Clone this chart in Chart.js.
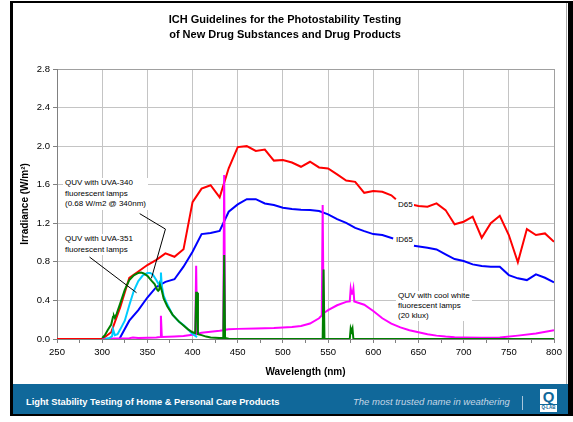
<!DOCTYPE html>
<html>
<head>
<meta charset="utf-8">
<script src="https://cdn.jsdelivr.net/npm/chart.js@4.4.1/dist/chart.umd.min.js"></script>
<style>
  html, body { margin: 0; padding: 0; background: #fff; }
  #wrap { position: relative; width: 573px; height: 422px; overflow: hidden; font-family: "Liberation Sans", Arial, sans-serif; }
  #chart { position: absolute; left: 0; top: 0; }
  .frame { position: absolute; left: 10px; top: 1px; width: 563px; height: 415px; box-sizing: border-box;
           border-style: solid; border-color: #000; border-width: 2px 5px 2px 3px; pointer-events: none; }
  .shade { position: absolute; left: 566px; top: 3px; width: 1px; height: 381px; background: #a8a8a8; }
  .title { position: absolute; left: 0; width: 570px; text-align: center; font-weight: bold; font-size: 11px; line-height: 14px; color: #000; }
  .note { position: absolute; font-size: 8px; line-height: 10.5px; background: #fff; color: #000; white-space: nowrap; padding: 0 2px; }
  .banner { position: absolute; left: 13px; top: 384px; width: 555px; height: 30px; background: #10689a; }
  .banner-left { position: absolute; left: 26px; top: 396px; font-size: 9.3px; line-height: 12px; font-weight: bold; color: #fff; white-space: nowrap; }
  .banner-right { position: absolute; left: 353px; top: 396px; font-size: 9.5px; line-height: 12px; font-style: italic; color: #c4d6e6; white-space: nowrap; }
  .sep { position: absolute; left: 522px; top: 396px; width: 1px; height: 14px; background: #a9c6dc; }
  .logo { position: absolute; left: 540px; top: 389px; width: 17px; height: 23px; background: #fff; text-align: center; color: #10689a; font-weight: bold; }
  .logo .q { font-size: 15px; line-height: 15px; display: block; }
  .logo .lab { font-size: 4.5px; line-height: 6px; display: block; border-top: 1.5px solid #10689a; }
</style>
</head>
<body>
<div id="wrap">
  <canvas id="chart" width="573" height="422"></canvas>
  <div class="title" style="top:12px">ICH Guidelines for the Photostability Testing</div>
  <div class="title" style="top:27px">of New Drug Substances and Drug Products</div>

  <div class="note" style="left:63px; top:178px">QUV with UVA-340<br>fluorescent lamps<br>(0.68 W/m2 @ 340nm)</div>
  <div class="note" style="left:63px; top:234px">QUV with UVA-351<br>fluorescent lamps</div>
  <div class="note" style="left:397px; top:200px; padding:0 1px">D65</div>
  <div class="note" style="left:395px; top:235px; padding:0 1px">ID65</div>
  <div class="note" style="left:396px; top:291px; line-height:10px">QUV with cool white<br>fluorescent lamps<br>(20 klux)</div>

  <div class="frame"></div>
  <div class="shade"></div>
  <div class="banner"></div>
  <div class="banner-left">Light Stability Testing of Home &amp; Personal Care Products</div>
  <div class="banner-right">The most trusted name in weathering</div>
  <div class="sep"></div>
  <div class="logo"><span class="q">Q</span><span class="lab">Q-LAB</span></div>
</div>
<script>
// tick labels
const xTickLabels = [250, 300, 350, 400, 450, 500, 550, 600, 650, 700, 750, 800];
const yTickLabels = ['0.0', '0.4', '0.8', '1.2', '1.6', '2.0', '2.4', '2.8'];

// D65 daylight (null = gap behind the label)
const d65Nm  = [250, 300, 310, 320, 330, 340, 350, 360, 370, 380, 390, 400, 410, 420, 430, 440, 450, 460, 470, 480,
                490, 500, 510, 520, 530, 540, 550, 560, 570, 580, 590, 600, 610, 620, 625, 635, 645, 650, 660, 670,
                680, 690, 700, 710, 720, 730, 740, 750, 760, 770, 780, 790, 800];
const d65Irr = [0, 0, 0.07, 0.33, 0.635, 0.70, 0.767, 0.82, 0.888, 0.853, 0.93, 1.42, 1.56, 1.595, 1.47, 1.77, 1.99, 2.0, 1.95, 1.965,
                1.85, 1.855, 1.83, 1.786, 1.838, 1.779, 1.769, 1.707, 1.644, 1.63, 1.516, 1.534, 1.527, 1.49, 1.45, null, 1.39, 1.38, 1.371, 1.406,
                1.337, 1.19, 1.216, 1.268, 1.05, 1.2, 1.278, 1.078, 0.795, 1.14, 1.078, 1.095, 1.008];

// ID65 indoor daylight
const id65Nm  = [319, 330, 340, 350, 360, 370, 380, 390, 400, 410, 420, 430, 440, 450, 460, 470, 480, 490, 500, 510,
                 520, 530, 540, 550, 560, 570, 580, 590, 600, 610, 622, 632, 645, 660, 670, 680, 690, 700, 710, 720,
                 730, 740, 750, 760, 770, 780, 790, 800];
const id65Irr = [0, 0.19, 0.30, 0.43, 0.54, 0.592, 0.62, 0.75, 0.905, 1.088, 1.10, 1.12, 1.32, 1.396, 1.45, 1.45, 1.406, 1.389, 1.361, 1.347,
                 1.34, 1.337, 1.327, 1.292, 1.243, 1.205, 1.153, 1.119, 1.088, 1.078, 1.043, null, 0.967, 0.946, 0.929, 0.878, 0.829, 0.808, 0.774, 0.756,
                 0.75, 0.75, 0.663, 0.629, 0.611, 0.67, 0.635, 0.588];

// QUV cool white fluorescent
const coolWhiteNm  = [300, 313, 330, 334, 340, 360, 364, 365, 366, 380, 390, 400, 403, 404, 405, 410, 420, 430, 434, 435,
                      436, 440, 450, 470, 490, 510, 520, 530, 540, 543, 544, 545, 547, 550, 560, 570, 574, 575, 576, 577,
                      578, 579, 590, 600, 610, 620, 630, 640, 650, 660, 670, 680, 690, 700, 720, 740, 760, 780, 800];
const coolWhiteIrr = [0, 0.005, 0.008, 0.015, 0.01, 0.015, 0.02, 0.24, 0.02, 0.025, 0.03, 0.045, 0.05, 0.76, 0.055, 0.065, 0.075, 0.085, 0.09, 1.70,
                      0.095, 0.1, 0.105, 0.11, 0.115, 0.125, 0.135, 0.16, 0.215, 0.245, 1.39, 0.27, 0.28, 0.30, 0.35, 0.385, 0.39, 0.52, 0.47, 0.47,
                      0.52, 0.39, 0.355, 0.29, 0.215, 0.16, 0.12, 0.09, 0.07, 0.05, 0.035, 0.025, 0.018, 0.015, 0.013, 0.015, 0.035, 0.058, 0.09];

// QUV UVA-340
const uva340Nm  = [300, 303, 306, 310, 312, 313, 314, 316, 320, 325, 330, 335, 340, 343, 346, 350, 355, 358, 361, 362,
                   363, 364, 365, 366, 368, 372, 378, 385, 390, 395, 400, 403, 404, 405, 406, 410, 415, 420, 430, 434,
                   435, 436, 440, 450, 544, 545, 546, 574, 575, 576, 577, 578, 800];
const uva340Irr = [0.01, 0.04, 0.09, 0.15, 0.23, 0.24, 0.22, 0.26, 0.37, 0.51, 0.61, 0.66, 0.685, 0.69, 0.68, 0.655, 0.60, 0.57, 0.51, 0.50,
                   0.51, 0.56, 0.56, 0.50, 0.42, 0.34, 0.25, 0.18, 0.14, 0.10, 0.07, 0.06, 0.48, 0.48, 0.05, 0.04, 0.025, 0.015, 0.01, 0.01,
                   0.87, 0.01, 0.003, 0, 0, 0.72, 0, 0, 0.11, 0.08, 0.11, 0, 0];

// QUV UVA-351
const uva351Nm  = [303, 308, 311, 312, 313, 314, 317, 320, 325, 330, 335, 340, 345, 350, 353, 356, 360, 363, 364, 365,
                   366, 368, 372, 378, 385, 390, 395, 399, 402, 405];
const uva351Irr = [0, 0.01, 0.03, 0.10, 0.10, 0.04, 0.05, 0.10, 0.19, 0.35, 0.50, 0.60, 0.66, 0.685, 0.685, 0.67, 0.61, 0.56, 0.60, 0.69,
                   0.55, 0.45, 0.36, 0.25, 0.18, 0.145, 0.10, 0.06, 0.04, 0.02];

// leader lines for the lamp notes, in data units (nm, W/m2)
const leader340 = [[341.5, 1.30], [370, 1.14], [354.5, 0.63]];
const leader351 = [[286, 0.85], [338, 0.48]];

function pairs(nm, irr) {
  return nm.map((x, i) => ({ x: x, y: irr[i] }));
}

function series(label, nm, irr, color) {
  return {
    label: label,
    data: pairs(nm, irr),
    borderColor: color,
    backgroundColor: color,
    borderWidth: 2,
    pointRadius: 0,
    tension: 0,
    spanGaps: false
  };
}

const leaderPlugin = {
  id: 'leaders',
  afterDatasetsDraw(chart) {
    const ctx = chart.ctx;
    const xs = chart.scales.x, ys = chart.scales.y;
    ctx.save();
    ctx.strokeStyle = '#000';
    ctx.lineWidth = 1;
    [leader340, leader351].forEach(pts => {
      ctx.beginPath();
      pts.forEach((p, i) => {
        const px = xs.getPixelForValue(p[0]);
        const py = ys.getPixelForValue(p[1]);
        if (i === 0) ctx.moveTo(px, py); else ctx.lineTo(px, py);
      });
      ctx.stroke();
    });
    ctx.restore();
  }
};

const fontFamily = "'Liberation Sans', Arial, sans-serif";

new Chart(document.getElementById('chart'), {
  type: 'line',
  data: {
    datasets: [
      series('QUV with UVA-340 fluorescent lamps', uva340Nm, uva340Irr, '#008000'),
      series('QUV with UVA-351 fluorescent lamps', uva351Nm, uva351Irr, '#00ccff'),
      series('QUV with cool white fluorescent lamps', coolWhiteNm, coolWhiteIrr, '#ff00ff'),
      series('ID65', id65Nm, id65Irr, '#0000ff'),
      series('D65', d65Nm, d65Irr, '#ff0000')
    ]
  },
  options: {
    responsive: false,
    animation: false,
    layout: { padding: { left: 14, right: 19, top: 69, bottom: 38 } },
    plugins: {
      legend: { display: false },
      tooltip: { enabled: false }
    },
    scales: {
      x: {
        type: 'linear',
        min: 250,
        max: 800,
        afterFit: function(scale) { scale.height = 45; },
        ticks: {
          stepSize: 25,
          autoSkip: false,
          maxRotation: 0,
          padding: 4,
          color: '#000',
          font: { family: fontFamily, size: 9.5 },
          callback: function(v) { return xTickLabels.includes(v) ? String(v) : ''; }
        },
        grid: {
          color: function(c) {
            if (!c.tick) return 'rgba(0,0,0,0)';
            if (c.tick.value === 800) return '#a0a0a0';
            return c.tick.value % 50 === 0 ? '#c4c4c4' : 'rgba(0,0,0,0)';
          },
          tickColor: '#808080',
          tickLength: 4
        },
        border: { color: '#808080' },
        title: {
          display: true,
          text: 'Wavelength (nm)',
          color: '#000',
          font: { family: fontFamily, size: 10, weight: 'bold' },
          padding: { top: 0, bottom: 6 }
        }
      },
      y: {
        min: 0,
        max: 2.8,
        afterFit: function(scale) { scale.width = 43; },
        ticks: {
          stepSize: 0.4,
          padding: 3,
          color: '#000',
          font: { family: fontFamily, size: 9.5 },
          callback: function(v) { return yTickLabels[Math.round(v / 0.4)]; }
        },
        grid: {
          color: function(c) {
            return c.tick && c.tick.value > 2.79 ? '#a0a0a0' : '#c4c4c4';
          },
          tickColor: '#808080',
          tickLength: 4
        },
        border: { color: '#808080' },
        title: {
          display: true,
          text: 'Irradiance (W/m²)',
          color: '#000',
          font: { family: fontFamily, size: 10, weight: 'bold' },
          padding: { top: 5, bottom: 0 }
        }
      }
    }
  },
  plugins: [leaderPlugin]
});
</script>
</body>
</html>
